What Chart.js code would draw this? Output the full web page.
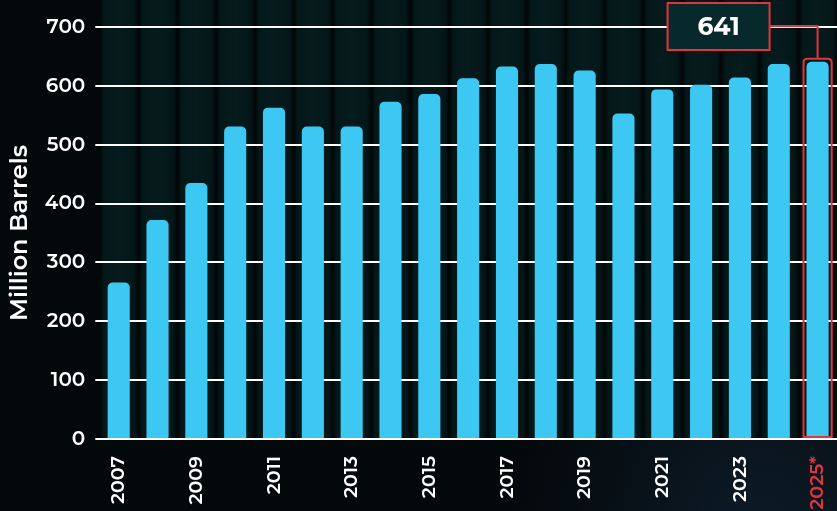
<!DOCTYPE html>
<html>
<head>
<meta charset="utf-8">
<script src="https://cdn.jsdelivr.net/npm/chart.js@4.4.1/dist/chart.umd.min.js"></script>
<style>
  html, body { margin: 0; padding: 0; background: #03080a; }
  #wrap { width: 837px; height: 511px; position: relative; }
</style>
</head>
<body>
<div id="wrap"><canvas id="oilChart"></canvas></div>
<script>
// Data
const years = ['2007', '2008', '2009', '2010', '2011', '2012', '2013', '2014', '2015', '2016',
               '2017', '2018', '2019', '2020', '2021', '2022', '2023', '2024', '2025*'];
const production = [266, 372, 435, 531, 563, 531, 531, 573, 586, 613,
                    633, 637, 626, 553, 594, 602, 614, 637, 641];
const yTicks = [0, 100, 200, 300, 400, 500, 600, 700];
const yTitle = 'Million Barrels';

const lastIdx = years.length - 1;
const RED = '#e3343c';
const FONT = 'Montserrat, Inter, "Noto Sans", sans-serif';

// striped dark background behind the plot
const backdrop = {
    id: 'backdrop',
    beforeDraw(chart) {
        const { ctx, chartArea, scales } = chart;
        ctx.save();
        ctx.fillStyle = '#03080a';
        ctx.fillRect(0, 0, chart.width, chart.height);
        const glow = ctx.createRadialGradient(760, 520, 10, 760, 520, 260);
        glow.addColorStop(0, 'rgba(20,40,60,0.55)');
        glow.addColorStop(1, 'rgba(20,40,60,0)');
        ctx.fillStyle = glow;
        ctx.fillRect(0, 0, chart.width, chart.height);
        const step = scales.x.getPixelForValue(1) - scales.x.getPixelForValue(0);
        years.forEach((y, i) => {
            const left = scales.x.getPixelForValue(i) - step / 2;
            const g = ctx.createLinearGradient(left, 0, left + step, 0);
            g.addColorStop(0, '#010405');
            g.addColorStop(0.12, '#04181a');
            g.addColorStop(0.5, '#061b1d');
            g.addColorStop(0.9, '#041618');
            g.addColorStop(1, '#020809');
            ctx.fillStyle = g;
            ctx.fillRect(left, 0, step, chartArea.bottom);
        });
        ctx.restore();
    }
};

// red callout on the 2025 bar
const callout = {
    id: 'callout',
    afterDatasetsDraw(chart) {
        const { ctx, scales } = chart;
        const bar = chart.getDatasetMeta(0).data[lastIdx];
        if (!bar) return;
        const half = bar.width / 2;
        ctx.save();
        ctx.strokeStyle = RED;
        ctx.lineWidth = 2;
        // outline around bar
        const top = bar.y - 3;
        const left = bar.x - half - 3;
        const right = bar.x + half + 3;
        const bottom = bar.base - 1;
        ctx.beginPath();
        ctx.moveTo(left, bottom);
        ctx.lineTo(left, top + 4);
        ctx.quadraticCurveTo(left, top, left + 4, top);
        ctx.lineTo(right - 4, top);
        ctx.quadraticCurveTo(right, top, right, top + 4);
        ctx.lineTo(right, bottom);
        ctx.closePath();
        ctx.stroke();

        // label box
        const boxW = 102, boxH = 47;
        const boxRight = bar.x - 48;
        const boxTop = 3;
        const lineY = scales.y.getPixelForValue(yTicks[yTicks.length - 1]) - 1;
        ctx.beginPath();
        ctx.moveTo(boxRight, lineY);
        ctx.lineTo(bar.x, lineY);
        ctx.lineTo(bar.x, top);
        ctx.stroke();
        ctx.fillStyle = '#07292c';
        ctx.fillRect(boxRight - boxW, boxTop, boxW, boxH);
        ctx.strokeRect(boxRight - boxW, boxTop, boxW, boxH);
        ctx.fillStyle = '#ffffff';
        ctx.font = '700 25px ' + FONT;
        ctx.textAlign = 'center';
        ctx.textBaseline = 'middle';
        ctx.fillText(String(production[lastIdx]), boxRight - boxW / 2, boxTop + boxH / 2 + 1);
        ctx.restore();
    }
};

function barFill(context) {
    const chart = context.chart;
    const bar = chart.getDatasetMeta(0).data[context.dataIndex];
    if (!bar || !bar.width) return '#3cc8f2';
    const g = chart.ctx.createLinearGradient(bar.x - bar.width / 2, 0, bar.x + bar.width / 2, 0);
    g.addColorStop(0, '#2794b8');
    g.addColorStop(0.22, '#3bc5ef');
    g.addColorStop(1, '#3ecaf4');
    return g;
}

new Chart(document.getElementById('oilChart'), {
    type: 'bar',
    data: {
        labels: years,
        datasets: [{
            data: production,
            backgroundColor: barFill,
            borderRadius: { topLeft: 5, topRight: 5 },
            borderSkipped: 'start',
            barPercentage: 0.57,
            categoryPercentage: 1
        }]
    },
    options: {
        responsive: true,
        maintainAspectRatio: false,
        animation: false,
        layout: { padding: { top: 27, right: 0, left: 4, bottom: 2 } },
        plugins: {
            legend: { display: false },
            tooltip: { enabled: false }
        },
        scales: {
            x: {
                grid: { display: false },
                border: { display: true, color: '#ffffff', width: 2 },
                afterFit: (scale) => {
                    scale.paddingRight = 0;
                    scale.paddingLeft = 0;
                    scale.height = 70;
                },
                ticks: {
                    autoSkip: false,
                    maxRotation: 90,
                    minRotation: 90,
                    padding: 9,
                    color: (c) => c.index === lastIdx ? RED : '#ffffff',
                    font: { family: FONT, size: 19, weight: '600' },
                    callback: (v, i) => i % 2 === 0 ? years[i] : ''
                }
            },
            y: {
                min: yTicks[0],
                max: yTicks[yTicks.length - 1],
                border: { display: false },
                grid: {
                    color: '#ffffff',
                    lineWidth: 2,
                    drawTicks: true,
                    tickLength: 4,
                    tickColor: '#ffffff'
                },
                ticks: {
                    stepSize: yTicks[1] - yTicks[0],
                    padding: 10,
                    color: '#ffffff',
                    font: { family: FONT, size: 20, weight: '600' }
                },
                title: {
                    display: true,
                    text: yTitle,
                    color: '#ffffff',
                    padding: { top: 2, bottom: 0 },
                    font: { family: FONT, size: 24, weight: '600' }
                }
            }
        }
    },
    plugins: [backdrop, callout]
});
</script>
</body>
</html>
